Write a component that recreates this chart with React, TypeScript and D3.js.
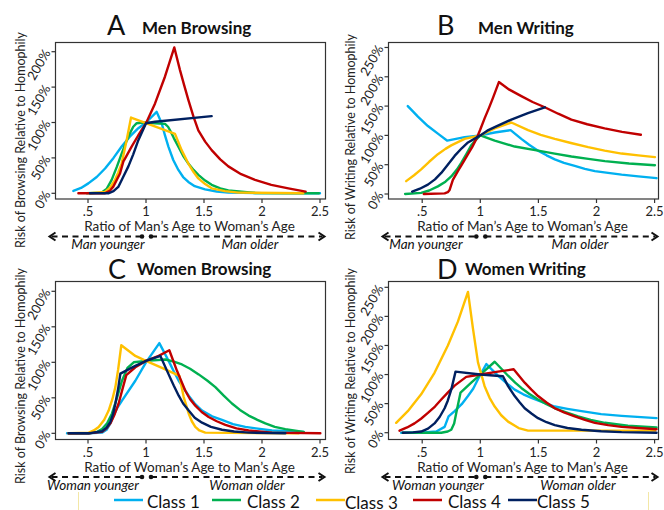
import React from 'react';
import * as d3 from 'd3';

type Pt = [number, number];

// ---------- Data (x = age ratio, y = risk % relative to homophily) ----------
const classNames = ['Class 1', 'Class 2', 'Class 3', 'Class 4', 'Class 5'];
const classColors = ['#00B0F0', '#00B050', '#FFC000', '#C00000', '#002060'];

const xTicks = [0.5, 1, 1.5, 2, 2.5];
const xTickLabels = ['.5', '1', '1.5', '2', '2.5'];
const yTicksBrowsing = [0, 50, 100, 150, 200];
const yTicksWriting = [0, 50, 100, 150, 200, 250];

// A: Men Browsing
const menBrowsing1: Pt[] = [[0.374, 3.3], [0.44, 7.5], [0.503, 14], [0.575, 23], [0.647, 35], [0.72, 50], [0.79, 66], [0.86, 80], [0.934, 92], [1.0, 100], [1.092, 115], [1.135, 99], [1.165, 81], [1.193, 66], [1.235, 47], [1.279, 33], [1.32, 23], [1.365, 16], [1.42, 10], [1.509, 5.6], [1.61, 2.5], [1.71, 1], [2.0, 0.3], [2.5, 0]];
const menBrowsing2: Pt[] = [[0.489, 0], [0.618, 1], [0.66, 6], [0.704, 19], [0.75, 38], [0.79, 56], [0.83, 73], [0.862, 85], [0.89, 94], [0.92, 99], [0.977, 100], [1.078, 99], [1.164, 98], [1.19, 94], [1.207, 89], [1.24, 78], [1.279, 66], [1.32, 53], [1.365, 42], [1.41, 33], [1.451, 26], [1.51, 18], [1.566, 12], [1.64, 7], [1.71, 4], [1.94, 0.5], [2.49, 0]];
const menBrowsing3: Pt[] = [[0.517, 0], [0.647, 2], [0.69, 8], [0.733, 19], [0.76, 29], [0.79, 42], [0.833, 75], [0.871, 107], [1.0, 99], [1.25, 84], [1.307, 61], [1.365, 42], [1.41, 30], [1.451, 21], [1.51, 13], [1.566, 7], [1.68, 3], [1.796, 1], [2.356, 0]];
const menBrowsing4: Pt[] = [[0.417, 0], [0.647, 0], [0.69, 4], [0.718, 9.4], [0.776, 28], [0.805, 45], [0.819, 49], [0.876, 66], [0.934, 82], [1.0, 99], [1.078, 127], [1.164, 165], [1.244, 206], [1.293, 174], [1.33, 152], [1.365, 132], [1.41, 108], [1.451, 89], [1.51, 73], [1.566, 61], [1.64, 48], [1.71, 38], [1.82, 27], [1.94, 19], [2.08, 12], [2.227, 7], [2.376, 2.4]];
const menBrowsing5: Pt[] = [[0.517, 0], [0.675, 0], [0.72, 3], [0.761, 9], [0.80, 22], [0.848, 38], [0.89, 55], [0.934, 75], [0.97, 88], [1.0, 99], [1.078, 101], [1.566, 109]];

// B: Men Writing
const menWriting1: Pt[] = [[0.376, 150], [0.42, 141], [0.463, 132], [0.549, 116], [0.635, 103], [0.716, 91], [0.865, 97], [1.0, 100], [1.124, 105], [1.261, 109], [1.353, 94], [1.42, 84], [1.497, 74], [1.57, 66], [1.641, 59], [1.72, 53], [1.813, 48], [1.9, 43], [1.986, 39], [2.1, 36], [2.216, 33], [2.36, 30], [2.517, 27]];
const menWriting2: Pt[] = [[0.353, 0], [0.491, 2], [0.56, 6], [0.635, 13], [0.7, 21], [0.75, 30], [0.80, 42], [0.836, 53], [0.88, 68], [0.922, 83], [0.96, 92], [1.0, 100], [1.124, 91], [1.296, 81], [1.497, 74], [1.64, 69], [1.784, 64], [1.93, 60], [2.072, 56], [2.28, 52], [2.503, 49]];
const menWriting3: Pt[] = [[0.362, 22], [0.43, 32], [0.491, 42], [0.56, 55], [0.635, 68], [0.7, 77], [0.75, 83], [0.865, 94], [1.0, 100], [1.124, 112], [1.267, 122], [1.411, 109], [1.52, 101], [1.641, 94], [1.78, 87], [1.928, 80], [2.07, 74], [2.216, 69], [2.36, 66], [2.503, 63]];
const menWriting4: Pt[] = [[0.514, 0], [0.693, 1], [0.72, 3], [0.736, 7], [0.764, 24], [0.807, 39], [0.85, 53], [0.894, 68], [0.93, 80], [0.966, 94], [1.0, 110], [1.037, 129], [1.075, 147], [1.109, 164], [1.16, 191], [1.25, 178], [1.353, 167], [1.45, 157], [1.555, 148], [1.67, 137], [1.784, 127], [1.92, 119], [2.07, 112], [2.22, 106], [2.382, 101]];
const menWriting5: Pt[] = [[0.414, 4], [0.48, 9], [0.549, 16], [0.61, 25], [0.664, 36], [0.72, 50], [0.779, 65], [0.84, 78], [0.894, 88], [1.0, 100], [1.06, 108], [1.124, 114], [1.267, 127], [1.41, 138], [1.555, 148]];

// C: Women Browsing
const womenBrowsing1: Pt[] = [[0.319, 0], [0.506, 0], [0.621, 1], [0.66, 5], [0.693, 14], [0.72, 25], [0.75, 35], [0.793, 46], [0.908, 74], [1.0, 100], [1.115, 127], [1.195, 102], [1.24, 87], [1.282, 74], [1.368, 53], [1.42, 42], [1.483, 32], [1.57, 24], [1.655, 19], [1.75, 13], [1.856, 9], [2.086, 4], [2.359, 2]];
const womenBrowsing2: Pt[] = [[0.333, 0], [0.506, 0], [0.58, 2], [0.621, 6], [0.665, 14], [0.707, 28], [0.75, 50], [0.793, 74], [0.84, 92], [0.894, 100], [1.0, 102], [1.167, 104], [1.24, 101], [1.31, 97], [1.38, 91], [1.454, 83], [1.53, 74], [1.598, 65], [1.67, 53], [1.741, 42], [1.81, 33], [1.885, 25], [1.96, 19], [2.029, 14], [2.11, 9], [2.201, 6], [2.359, 2]];
const womenBrowsing3: Pt[] = [[0.333, 0], [0.506, 1], [0.55, 4], [0.592, 9], [0.64, 19], [0.678, 32], [0.71, 48], [0.736, 65], [0.76, 90], [0.787, 124], [0.908, 109], [1.0, 102], [1.167, 90], [1.287, 81], [1.325, 51], [1.368, 28], [1.395, 17], [1.425, 9], [1.46, 4], [1.511, 1], [2.316, 0]];
const womenBrowsing4: Pt[] = [[0.333, 0], [0.506, 0], [0.621, 2], [0.66, 7], [0.693, 14], [0.73, 27], [0.764, 42], [0.80, 64], [0.83, 82], [0.908, 93], [1.0, 102], [1.109, 109], [1.201, 117], [1.267, 88], [1.339, 60], [1.38, 48], [1.425, 39], [1.48, 30], [1.54, 23], [1.61, 17], [1.684, 12], [1.78, 7], [1.885, 4], [2.086, 1], [2.503, 0]];
const womenBrowsing5: Pt[] = [[0.333, 0], [0.506, 0], [0.621, 3], [0.66, 8], [0.693, 16], [0.716, 27], [0.736, 42], [0.76, 63], [0.779, 84], [0.908, 95], [1.0, 102], [1.124, 109], [1.195, 83], [1.24, 67], [1.282, 53], [1.32, 42], [1.368, 32], [1.42, 22], [1.483, 15], [1.56, 9], [1.655, 5], [1.76, 2.5], [1.885, 1], [2.201, 0]];

// D: Women Writing
const womenWriting1: Pt[] = [[0.319, 0], [0.491, 0], [0.621, 2], [0.693, 10], [0.727, 28], [0.779, 37], [0.84, 49], [0.894, 63], [0.94, 76], [0.98, 92], [1.052, 118], [1.152, 98], [1.22, 86], [1.296, 74], [1.37, 66], [1.44, 60], [1.54, 52], [1.641, 45], [1.75, 41], [1.871, 37], [2.04, 32], [2.216, 29], [2.517, 25]];
const womenWriting2: Pt[] = [[0.333, 0], [0.491, 0], [0.664, 0], [0.72, 2], [0.75, 5], [0.775, 16], [0.793, 34], [0.83, 69], [0.922, 86], [1.0, 100], [1.124, 122], [1.239, 98], [1.3, 86], [1.353, 77], [1.42, 67], [1.497, 57], [1.57, 49], [1.641, 42], [1.74, 35], [1.842, 28], [1.95, 22], [2.072, 17], [2.27, 12], [2.517, 9]];
const womenWriting3: Pt[] = [[0.276, 17], [0.376, 37], [0.491, 66], [0.606, 103], [0.721, 150], [0.807, 191], [0.894, 242], [0.937, 179], [0.98, 121], [1.037, 80], [1.08, 60], [1.124, 45], [1.18, 30], [1.239, 19], [1.33, 8], [1.411, 3.5], [1.641, 3.5], [2.503, 3.5]];
const womenWriting4: Pt[] = [[0.305, 3.5], [0.37, 9], [0.434, 16], [0.49, 24], [0.549, 34], [0.61, 45], [0.664, 57], [0.72, 69], [0.779, 81], [0.879, 96], [1.0, 100], [1.152, 105], [1.287, 109], [1.382, 86], [1.44, 74], [1.497, 63], [1.57, 52], [1.641, 42], [1.72, 35], [1.813, 28], [1.9, 22], [1.986, 17], [2.1, 13], [2.216, 10], [2.517, 6]];
const womenWriting5: Pt[] = [[0.333, 0], [0.42, 0.5], [0.491, 2], [0.55, 7], [0.606, 16], [0.65, 27], [0.693, 42], [0.72, 55], [0.75, 74], [0.787, 105], [1.0, 100], [1.195, 97], [1.239, 80], [1.296, 63], [1.34, 52], [1.382, 42], [1.44, 33], [1.497, 25], [1.57, 18], [1.641, 13], [1.75, 8], [1.871, 5], [2.04, 2.5], [2.216, 1], [2.517, 0]];

// ---------- Layout ----------
const FONT = 'Lato, "Open Sans", sans-serif';

interface Panel {
  letter: string;
  title: string;
  yLabel: string;
  xLabel: string;
  younger: string;
  older: string;
  series: Pt[][];
  yTicks: number[];
  x0: number; x1: number; y0: number; y1: number;
  xDomain: [number, number];
  yDomain: [number, number];
  letterX: number; letterY: number; titleX: number; titleY: number;
  yLabelX: number; yLabelY: number;
  youngerX: number; olderX: number;
}

const panels: Panel[] = [
  {
    letter: 'A', title: 'Men Browsing', yLabel: 'Risk of Browsing Relative to Homophily',
    xLabel: 'Ratio of Man’s Age to Woman’s Age', younger: 'Man younger', older: 'Man older',
    series: [menBrowsing1, menBrowsing2, menBrowsing3, menBrowsing4, menBrowsing5], yTicks: yTicksBrowsing,
    x0: 55.5, x1: 325.5, y0: 42.5, y1: 199, xDomain: [0.2198, 2.5474], yDomain: [-8.05, 213.0],
    letterX: 107, letterY: 35, titleX: 142, titleY: 34, yLabelX: 25, yLabelY: 140, youngerX: 108, olderX: 250,
  },
  {
    letter: 'B', title: 'Men Writing', yLabel: 'Risk of Writing Relative to Homophily',
    xLabel: 'Ratio of Man’s Age to Woman’s Age', younger: 'Man younger', older: 'Man older',
    series: [menWriting1, menWriting2, menWriting3, menWriting4, menWriting5], yTicks: yTicksWriting,
    x0: 388.5, x1: 658.5, y0: 42.5, y1: 199, xDomain: [0.21, 2.5336], yDomain: [-8.53, 258.5],
    letterX: 437, letterY: 35, titleX: 478, titleY: 34, yLabelX: 355, yLabelY: 137, youngerX: 426, olderX: 580,
  },
  {
    letter: 'C', title: 'Women Browsing', yLabel: 'Risk of Browsing Relative to Homophily',
    xLabel: 'Ratio of Woman’s Age to Man’s Age', younger: 'Woman younger', older: 'Woman older',
    series: [womenBrowsing1, womenBrowsing2, womenBrowsing3, womenBrowsing4, womenBrowsing5], yTicks: yTicksBrowsing,
    x0: 55.5, x1: 325.5, y0: 281.5, y1: 439.5, xDomain: [0.2198, 2.5474], yDomain: [-8.7, 213.8],
    letterX: 108, letterY: 279, titleX: 137, titleY: 275, yLabelX: 25, yLabelY: 376, youngerX: 93, olderX: 247,
  },
  {
    letter: 'D', title: 'Women Writing', yLabel: 'Risk of Writing Relative to Homophily',
    xLabel: 'Ratio of Woman’s Age to Man’s Age', younger: 'Woman younger', older: 'Woman older',
    series: [womenWriting1, womenWriting2, womenWriting3, womenWriting4, womenWriting5], yTicks: yTicksWriting,
    x0: 388.5, x1: 658.5, y0: 281.5, y1: 439.5, xDomain: [0.21, 2.5336], yDomain: [-11.7, 260],
    letterX: 437, letterY: 279, titleX: 465, titleY: 275, yLabelX: 355, yLabelY: 371, youngerX: 438, olderX: 578,
  },
];

function PanelView({ p }: { p: Panel }) {
  const x = d3.scaleLinear().domain(p.xDomain).range([p.x0, p.x1]);
  const y = d3.scaleLinear().domain(p.yDomain).range([p.y1, p.y0]);
  const line = d3.line<Pt>().x((d) => x(d[0])).y((d) => y(d[1])).curve(d3.curveLinear);
  const arrowY = p.y1 + 37.5;
  const one = x(1);
  const leftEnd = p.x0 - 6;
  const rightEnd = p.x1 - 1;
  return (
    <g>
      {/* title */}
      <text x={p.letterX} y={p.letterY} fontFamily={FONT} fontSize={27} fill="#111">{p.letter}</text>
      <text x={p.titleX} y={p.titleY} fontFamily={FONT} fontSize={17} fontWeight="bold" fill="#111">{p.title}</text>
      {/* frame */}
      <rect x={p.x0} y={p.y0} width={p.x1 - p.x0} height={p.y1 - p.y0} fill="none" stroke="#333" strokeWidth={1.2} />
      {/* y ticks */}
      {p.yTicks.map((t) => (
        <g key={'y' + t}>
          <line x1={p.x0 - 4} x2={p.x0} y1={y(t)} y2={y(t)} stroke="#333" strokeWidth={1.2} />
          <text transform={`translate(${p.x0 - 4.5},${y(t) + 1}) rotate(-60)`} textAnchor="end"
            fontFamily={FONT} fontSize={13} fill="#222">{t + '%'}</text>
        </g>
      ))}
      {/* x ticks */}
      {xTicks.map((t, i) => (
        <g key={'x' + t}>
          <line x1={x(t)} x2={x(t)} y1={p.y1} y2={p.y1 + 4} stroke="#333" strokeWidth={1.2} />
          <text x={x(t)} y={p.y1 + 17} textAnchor="middle" fontFamily={FONT} fontSize={13} fill="#222">{xTickLabels[i]}</text>
        </g>
      ))}
      {/* axis labels */}
      <text x={(p.x0 + p.x1) / 2 - 1} y={p.y1 + 32} textAnchor="middle" fontFamily={FONT} fontSize={13.5} fill="#222">{p.xLabel}</text>
      <text transform={`translate(${p.yLabelX},${p.yLabelY}) rotate(-90)`} textAnchor="middle" fontFamily={FONT} fontSize={12.5} fill="#222">{p.yLabel}</text>
      {/* series */}
      <g>
        {p.series.map((s, i) => (
          <path key={i} d={line(s) || ''} fill="none" stroke={classColors[i]} strokeWidth={2.4} strokeLinejoin="round" strokeLinecap="round" />
        ))}
      </g>
      {/* direction arrows */}
      <g stroke="#111" strokeWidth={2} fill="none">
        <line x1={leftEnd + 2} x2={one - 4} y1={arrowY} y2={arrowY} strokeDasharray="6,4.5" />
        <line x1={one + 5} x2={rightEnd - 2} y1={arrowY} y2={arrowY} strokeDasharray="6,4.5" />
        <polyline points={`${leftEnd + 6},${arrowY - 4} ${leftEnd},${arrowY} ${leftEnd + 6},${arrowY + 4}`} />
        <polyline points={`${rightEnd - 6},${arrowY - 4} ${rightEnd},${arrowY} ${rightEnd - 6},${arrowY + 4}`} />
      </g>
      <circle cx={one - 4} cy={arrowY} r={2.3} fill="#111" />
      <circle cx={one + 5} cy={arrowY} r={2.3} fill="#111" />
      <text x={p.youngerX} y={p.y1 + 50} textAnchor="middle" fontFamily={FONT} fontStyle="italic" fontSize={13.5} fill="#111">{p.younger}</text>
      <text x={p.olderX} y={p.y1 + 50} textAnchor="middle" fontFamily={FONT} fontStyle="italic" fontSize={13.5} fill="#111">{p.older}</text>
    </g>
  );
}

const legendLineX = [114, 212, 316, 413, 508];
const legendTextX = [147, 247, 345, 448, 537];

export default function App() {
  return (
    <svg width={664} height={510} viewBox="0 0 664 510"
      style={{ position: 'absolute', left: 0, top: 0, background: '#fff' }}>
      <rect x={0} y={0} width={664} height={510} fill="#fff" />
      {panels.map((p) => <PanelView key={p.letter} p={p} />)}
      {/* legend */}
      <line x1={78.5} x2={78.5} y1={492} y2={510} stroke="#F3E7A6" strokeWidth={1} />
      <line x1={648.5} x2={648.5} y1={492} y2={510} stroke="#F3E7A6" strokeWidth={1} />
      {classNames.map((c, i) => (
        <g key={c}>
          <line x1={legendLineX[i]} x2={legendLineX[i] + 29} y1={500} y2={500} stroke={classColors[i]} strokeWidth={2.5} />
          <text x={legendTextX[i]} y={i === 2 ? 508.5 : 507.5} fontFamily={FONT} fontSize={17} fill="#111">{c}</text>
        </g>
      ))}
    </svg>
  );
}
